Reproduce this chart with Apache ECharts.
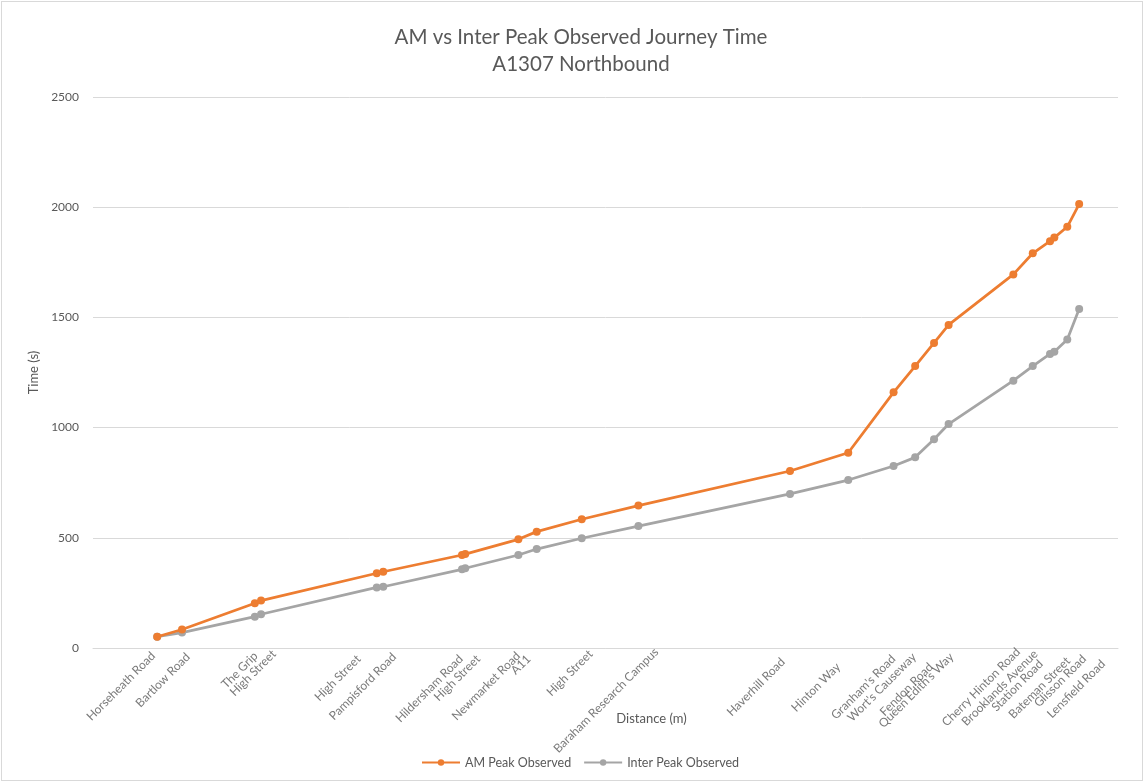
<!DOCTYPE html>
<html>
<head>
<meta charset="utf-8">
<script src="https://cdn.jsdelivr.net/npm/echarts@6/dist/echarts.min.js"></script>
<style>
  html, body { margin: 0; padding: 0; background: #fff; }
  #frame { position: absolute; left: 1px; top: 1px; width: 1140px; height: 778px; border: 1px solid #d9d9d9; }
  #chart { position: absolute; left: 0; top: 0; width: 1144px; height: 782px; }
</style>
</head>
<body>
<div id="frame"></div>
<div id="chart"></div>
<script>
// Timing points along the A1307 northbound, distance from start (m)
const stops = [
  'Horseheath Road', 'Bartlow Road', 'The Grip', 'High Street', 'High Street',
  'Pampisford Road', 'Hildersham Road', 'High Street', 'Newmarket Road', 'A11',
  'High Street', 'Baraham Research Campus', 'Haverhill Road', 'Hinton Way',
  "Granham's Road", "Wort's Causeway", 'Fendon Road', "Queen Edith's Way",
  'Cherry Hinton Road', 'Brooklands Avenue', 'Station Road', 'Bateman Street',
  'Glisson Road', 'Lensfield Road'
];
const distance = [
  1190, 1650, 3000, 3115, 5260,
  5380, 6840, 6900, 7885, 8225,
  9060, 10110, 12920, 14000,
  14840, 15240, 15590, 15860,
  17060, 17420, 17740, 17820,
  18060, 18280
];
// Cumulative observed journey time (s)
const amPeak = [
  51, 84, 203, 215, 339,
  346, 422, 426, 493, 528,
  584, 646, 803, 886,
  1160, 1279, 1384, 1466,
  1695, 1791, 1846, 1862,
  1911, 2014
];
const interPeak = [
  51, 70, 142, 153, 275,
  278, 357, 362, 422, 449,
  498, 553, 699, 762,
  826, 865, 947, 1016,
  1213, 1279, 1334, 1344,
  1400, 1538
];
const yTicks = { min: 0, max: 2500, step: 500 };

// Hand-placed nudges (px) that keep crowded stop names apart under the axis
const labelNudge = [
  [-5, 4], [5, 5], [0, 4], [12, 2], [-19, 7],
  [10, 5], [-2, 7], [12, 7], [-1, 4], [-9, 7],
  [8, 2], [17, 0], [-8, 10], [-11, 15],
  [-1, 7], [-2, 5], [-4, 15], [2, 5],
  [4, 0], [2, 2], [-10, 12], [13, 9],
  [16, 7], [23, 12]
];

const grey = '#595959';
const font = 'Lato, "Liberation Sans", sans-serif';
const pair = (xs, ys) => xs.map((x, i) => [x, ys[i]]);

const stopLabels = distance.map((d, i) => ({
  value: [d, 0],
  label: { position: [labelNudge[i][0] + 1, labelNudge[i][1] + 2] }
}));

const chart = echarts.init(document.getElementById('chart'), null, { renderer: 'canvas' });
chart.setOption({
  animation: false,
  textStyle: { fontFamily: font },
  title: {
    text: 'AM vs Inter Peak Observed Journey Time\nA1307 Northbound',
    left: 576,
    textAlign: 'center',
    top: 19,
    textStyle: { fontFamily: font, fontSize: 20.5, fontWeight: 'normal', color: grey, lineHeight: 27 }
  },
  legend: {
    bottom: 8,
    left: 416,
    itemWidth: 38,
    itemHeight: 8,
    itemGap: 12,
    textStyle: { fontFamily: font, fontSize: 12.5, color: grey },
    data: ['AM Peak Observed', 'Inter Peak Observed']
  },
  grid: { left: 93, right: 26, top: 97, bottom: 134, containLabel: false },
  xAxis: {
    type: 'value',
    min: 0,
    max: 19000,
    name: 'Distance (m)',
    nameLocation: 'middle',
    nameGap: 64,
    nameTextStyle: { fontFamily: font, fontSize: 13, color: grey, padding: [0, 0, 0, 92] },
    axisLine: { show: true, lineStyle: { color: '#d9d9d9' } },
    axisTick: { show: false },
    splitLine: { show: false },
    axisLabel: { show: false }
  },
  yAxis: {
    type: 'value',
    min: yTicks.min,
    max: yTicks.max,
    interval: yTicks.step,
    name: 'Time (s)',
    nameLocation: 'middle',
    nameRotate: 90,
    nameGap: 45,
    nameTextStyle: { fontFamily: font, fontSize: 13, color: grey },
    axisLine: { show: false },
    axisTick: { show: false },
    axisLabel: { fontFamily: font, fontSize: 12, color: grey, margin: 14, formatter: v => String(v) },
    splitLine: { lineStyle: { color: '#d9d9d9', width: 1 } }
  },
  series: [
    {
      name: 'AM Peak Observed',
      type: 'line',
      data: pair(distance, amPeak),
      symbol: 'circle',
      symbolSize: 8,
      color: '#ED7D31',
      lineStyle: { width: 2.75 },
      z: 3
    },
    {
      name: 'Inter Peak Observed',
      type: 'line',
      data: pair(distance, interPeak),
      symbol: 'circle',
      symbolSize: 8,
      color: '#A5A5A5',
      lineStyle: { width: 2.75 },
      z: 2
    },
    {
      // stop names along the distance axis
      name: 'stops',
      type: 'scatter',
      data: stopLabels,
      symbolSize: 0,
      silent: true,
      clip: false,
      itemStyle: { color: 'rgba(0,0,0,0)' },
      label: {
        show: true,
        formatter: p => stops[p.dataIndex],
        rotate: 45,
        align: 'right',
        verticalAlign: 'middle',
        fontFamily: font,
        fontSize: 12,
        color: grey
      },
      labelLayout: { hideOverlap: false }
    }
  ]
});
</script>
</body>
</html>
